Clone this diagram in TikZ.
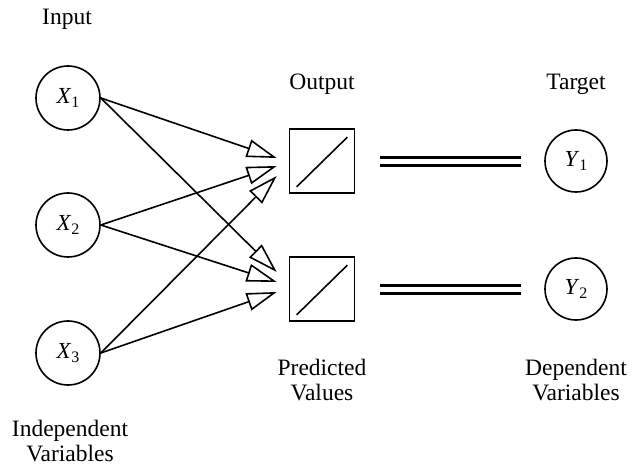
\documentclass[tikz,border=0pt]{standalone}
\usepackage{fontspec}
\setmainfont{Liberation Serif}
\usetikzlibrary{arrows.meta,calc}
\newcommand\myvar[2]{\textit{#1}\raisebox{-0.35ex}{\fontsize{16}{16}\selectfont #2}}
\begin{document}
\begin{tikzpicture}[x=1pt,y=-1pt,
  neuron/.style={circle,draw,line width=1.6pt,minimum size=64pt,inner sep=0pt,font=\fontsize{23}{27}\selectfont},
  targetnode/.style={circle,draw,line width=1.6pt,minimum size=62pt,inner sep=0pt,font=\fontsize{23}{27}\selectfont},
  unitbox/.style={draw,line width=1.6pt,minimum width=65pt,minimum height=64pt,inner sep=0pt},
  lbl/.style={font=\fontsize{23.5}{25}\selectfont,align=center,inner sep=0pt},
  conn/.style={line width=1.6pt,-{Triangle[open,length=30pt,width=18pt,line width=1.6pt]}},
  eqline/.style={line width=2.2pt}]
\useasboundingbox (0,0) rectangle (637,470);
% input nodes
\node[neuron] (x1) at (68,98) {\myvar{X}{1}};
\node[neuron] (x2) at (68,225) {\myvar{X}{2}};
\node[neuron] (x3) at (68,353) {\myvar{X}{3}};
% output boxes
\node[unitbox] (o1) at (322,161) {};
\node[unitbox] (o2) at (322,289) {};
\draw[line width=1.6pt] ($(o1.south west)+(8,-7)$) -- ($(o1.north east)+(-8,9)$);
\draw[line width=1.6pt] ($(o2.south west)+(8,-7)$) -- ($(o2.north east)+(-8,9)$);
% targets
\node[targetnode] (y1) at (576,161) {\myvar{Y}{1}};
\node[targetnode] (y2) at (576,289) {\myvar{Y}{2}};
% arrow tip coordinates
\coordinate (t11) at ($(o1.west)+(-12,-3)$);
\coordinate (t21) at ($(o1.west)+(-12,5)$);
\coordinate (t31) at ($(o1.west)+(-12,15)$);
\coordinate (t12) at ($(o2.west)+(-12,-17)$);
\coordinate (t22) at ($(o2.west)+(-12,-7)$);
\coordinate (t32) at ($(o2.west)+(-12,3)$);
\draw[conn] (x1.east) -- (t11);
\draw[conn] (x2.east) -- (t21);
\draw[conn] (x3.east) -- (t31);
\draw[conn] (x1.east) -- (t12);
\draw[conn] (x2.east) -- (t22);
\draw[conn] (x3.east) -- (t32);
% equality lines
\coordinate (a1) at ($(o1.east)+(25,0)$);
\coordinate (b1) at ($(y1.west)+(-23,0)$);
\coordinate (a2) at ($(o2.east)+(25,0)$);
\coordinate (b2) at ($(y2.west)+(-23,0)$);
\draw[eqline] ($(a1)+(0,-3.5)$) -- ($(b1)+(0,-3.5)$);
\draw[eqline] ($(a1)+(0,4.5)$) -- ($(b1)+(0,4.5)$);
\draw[eqline] ($(a2)+(0,-3.5)$) -- ($(b2)+(0,-3.5)$);
\draw[eqline] ($(a2)+(0,4.5)$) -- ($(b2)+(0,4.5)$);
% labels
\node[lbl] (lin) at (67,19) {Input};
\node[lbl] (lout) at (322,84) {Output};
\node[lbl] (ltar) at (576,84) {Target};
\node[lbl] (lind) at (70,441) {Independent\\Variables};
\node[lbl] (lpred) at (322,380) {Predicted\\Values};
\node[lbl] (ldep) at (576,380) {Dependent\\Variables};
\end{tikzpicture}
\end{document}
